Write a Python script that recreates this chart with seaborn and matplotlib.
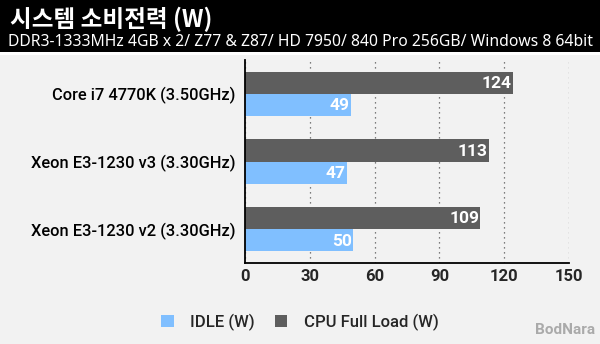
import matplotlib
matplotlib.use("Agg")
import matplotlib.pyplot as plt
import seaborn as sns
import pandas as pd
from matplotlib.patches import Rectangle, Patch

categories = ["Core i7 4770K (3.50GHz)", "Xeon E3-1230 v3 (3.30GHz)", "Xeon E3-1230 v2 (3.30GHz)"]
idle = [49, 47, 50]
full_load = [124, 113, 109]
series_names = ["IDLE (W)", "CPU Full Load (W)"]
x_ticks = [0, 30, 60, 90, 120, 150]

title = "시스템 소비전력 (W)"
subtitle = "DDR3-1333MHz 4GB x 2/ Z77 & Z87/ HD 7950/ 840 Pro 256GB/ Windows 8 64bit"

c_idle = "#80bfff"
c_load = "#5e5e5e"
bg = "#f2f2f2"

sns.set_style("white")
plt.rcParams['font.family'] = ['Noto Sans', 'Noto Sans CJK KR', 'DejaVu Sans']
bold_fam = ['Roboto', 'DejaVu Sans']

df = pd.DataFrame({
    "cpu": categories * 2,
    "value": full_load + idle,
    "series": [series_names[1]] * 3 + [series_names[0]] * 3,
})

fig = plt.figure(figsize=(6, 3.44), dpi=100, facecolor=bg)
ax = fig.add_axes([245/600, 1-263/344, (569-245)/600, (263-60)/344])
ax.set_facecolor(bg)

sns.barplot(data=df, y="cpu", x="value", hue="series", orient="h",
            hue_order=[series_names[1], series_names[0]],
            palette=[c_load, c_idle], width=0.66, ax=ax, legend=False,
            saturation=1, linewidth=0)

ax.set_xlim(0, 150)
ax.set_ylim(2.5, -0.5)
ax.set_xticks(x_ticks)
ax.set_xticklabels([str(t) for t in x_ticks], fontsize=12, fontweight="bold", family=bold_fam)
ax.set_yticks([0, 1, 2])
ax.set_yticklabels(categories, fontsize=11.8, fontweight="medium", family=bold_fam)
ax.tick_params(axis="y", length=0, pad=7, colors="#000000")
ax.set_yticks([0.5, 1.5], minor=True)
ax.tick_params(axis="y", which="minor", length=3, width=1.2, color="black")
ax.tick_params(axis="x", length=3, width=1.2, color="black", pad=1)
ax.set_xlabel("")
ax.set_ylabel("")
for s in ["top", "right"]:
    ax.spines[s].set_visible(False)
for s in ["left", "bottom"]:
    ax.spines[s].set_color("black")
    ax.spines[s].set_linewidth(1.3)
ax.xaxis.grid(True, linestyle=(0, (1, 3)), color="#555555", linewidth=0.9)
ax.set_axisbelow(True)

for cont in ax.containers:
    for rect, v in zip(cont.patches, cont.datavalues):
        ax.text(rect.get_x() + rect.get_width() - 0.6,
                rect.get_y() + rect.get_height() / 2 + 0.01,
                f"{v:.0f}", ha="right", va="center", color="white",
                fontsize=12.5, fontweight="bold", family=bold_fam)

# header
fig.patches.append(Rectangle((0, 1-52/344), 1, 52/344, transform=fig.transFigure,
                             facecolor="black", edgecolor="none", zorder=0))
fig.patches.append(Rectangle((0, 1-55/344), 1, 3/344, transform=fig.transFigure,
                             facecolor="#ffffff", edgecolor="none", zorder=0))
fig.text(10/600, 1-19/344, title, color="white", fontsize=17, fontweight="bold",
         va="center", ha="left", family=['Noto Sans CJK KR', 'DejaVu Sans'])
fig.text(8/600, 1-42/344, subtitle, color="white", fontsize=11.3,
         va="center", ha="left")

handles = [Patch(facecolor=c_idle, edgecolor="none"), Patch(facecolor=c_load, edgecolor="none")]
fig.legend(handles, series_names, loc="center", bbox_to_anchor=(300/600, 1-322/344),
           ncol=2, frameon=False, handlelength=0.75, handleheight=0.75,
           columnspacing=1.2, handletextpad=1.0,
           prop={"size": 12, "weight": "medium", "family": bold_fam})

fig.text(595/600, 1-330/344, "BodNara", color="#aaaaaa", fontsize=11, fontweight="bold",
         ha="right", va="center", family=bold_fam)

fig.savefig("out.png", dpi=100, facecolor=bg)
